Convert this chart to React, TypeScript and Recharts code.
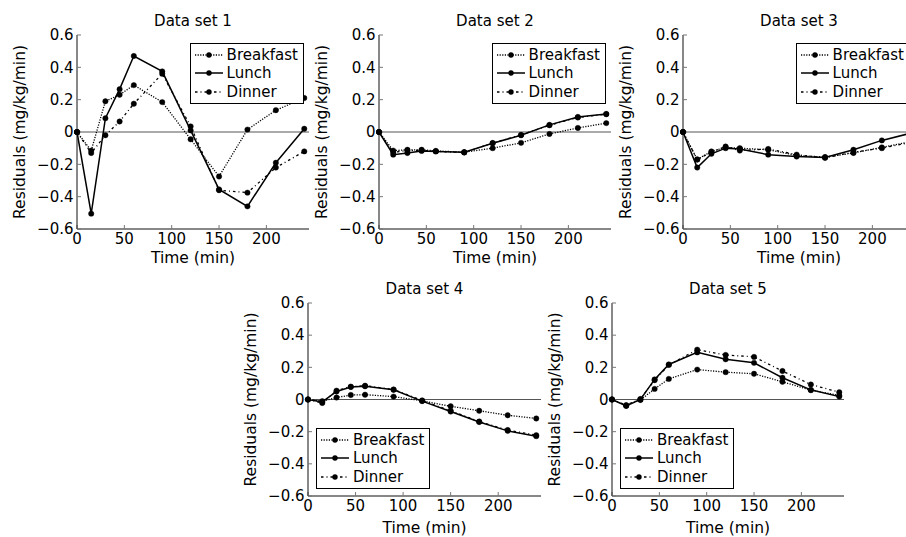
import React from 'react';
import { LineChart, Line, XAxis, YAxis, ReferenceLine, Legend } from 'recharts';

// sampling times (min) and axis ticks
const minutes = [0, 15, 30, 45, 60, 90, 120, 150, 180, 210, 240];
const xTicks = [0, 50, 100, 150, 200];
const yTicks = [-0.6, -0.4, -0.2, 0, 0.2, 0.4, 0.6];
const mealNames = ['Breakfast', 'Lunch', 'Dinner'];

// residuals, one array per meal and data set
const breakfast1 = [0, -0.115, 0.19, 0.23, 0.29, 0.185, -0.045, -0.275, 0.015, 0.135, 0.21];
const lunch1 = [0, -0.505, 0.085, 0.265, 0.47, 0.375, 0.01, -0.355, -0.46, -0.19, 0.02];
const dinner1 = [0, -0.13, -0.02, 0.065, 0.175, 0.36, 0.035, -0.36, -0.375, -0.22, -0.12];

const breakfast2 = [0, -0.115, -0.11, -0.11, -0.117, -0.125, -0.1, -0.067, -0.012, 0.025, 0.055];
const lunch2 = [0, -0.14, -0.13, -0.117, -0.12, -0.125, -0.07, -0.02, 0.044, 0.093, 0.112];
const dinner2 = [0, -0.125, -0.115, -0.113, -0.12, -0.127, -0.068, -0.018, 0.042, 0.09, 0.11];

const breakfast3 = [0, -0.17, -0.12, -0.095, -0.1, -0.11, -0.145, -0.155, -0.13, -0.095, -0.06];
const lunch3 = [0, -0.22, -0.135, -0.1, -0.105, -0.14, -0.152, -0.158, -0.11, -0.052, -0.008];
const dinner3 = [0, -0.17, -0.125, -0.09, -0.115, -0.105, -0.14, -0.16, -0.125, -0.1, -0.065];

const breakfast4 = [0, -0.01, 0.012, 0.028, 0.03, 0.018, -0.008, -0.042, -0.07, -0.098, -0.118];
const lunch4 = [0, -0.015, 0.05, 0.078, 0.082, 0.06, -0.01, -0.075, -0.14, -0.195, -0.228];
const dinner4 = [0, -0.022, 0.055, 0.08, 0.086, 0.062, -0.006, -0.07, -0.137, -0.19, -0.222];

const breakfast5 = [0, -0.037, -0.003, 0.066, 0.128, 0.186, 0.17, 0.16, 0.11, 0.058, 0.025];
const lunch5 = [0, -0.04, 0, 0.125, 0.218, 0.293, 0.25, 0.228, 0.135, 0.06, 0.018];
const dinner5 = [0, -0.035, 0.003, 0.12, 0.215, 0.31, 0.277, 0.265, 0.177, 0.093, 0.045];

const FONT = '"DejaVu Sans", Verdana, sans-serif';

const styles: Record<string, { dash?: string; width: number }> = {
  Breakfast: { dash: '1.2 1.4', width: 1.3 },
  Lunch: { dash: undefined, width: 1.5 },
  Dinner: { dash: '2.5 3 1 3', width: 1.3 },
};

// layout of each panel's plot box, in page pixels
const AX_W = 70;
const MT = 35;
const XH = 48;
const MR = 6;

type Panel = {
  title: string;
  series: number[][];
  left: number;
  top: number;
  w: number;
  h: number;
  legend: 'ur' | 'll';
  xGap: number;
};

const panels: Panel[] = [
  { title: 'Data set 1', series: [breakfast1, lunch1, dinner1], left: 77, top: 35, w: 232, h: 194, legend: 'ur', xGap: 34 },
  { title: 'Data set 2', series: [breakfast2, lunch2, dinner2], left: 379, top: 35, w: 232, h: 194, legend: 'ur', xGap: 34 },
  { title: 'Data set 3', series: [breakfast3, lunch3, dinner3], left: 683, top: 35, w: 232, h: 194, legend: 'ur', xGap: 34 },
  { title: 'Data set 4', series: [breakfast4, lunch4, dinner4], left: 308, top: 303, w: 233, h: 193, legend: 'll', xGap: 36.5 },
  { title: 'Data set 5', series: [breakfast5, lunch5, dinner5], left: 612, top: 303, w: 232, h: 193, legend: 'll', xGap: 36.5 },
];

const fmtY = (v: number) => (v === 0 ? '0' : (v < 0 ? '\u2212' : '') + Math.abs(v).toFixed(1));

const MealLegend = () => (
  <div
    style={{
      border: '1px solid #000',
      background: '#fff',
      padding: '2px 5px 2px 3px',
      fontFamily: FONT,
      fontSize: 15,
      lineHeight: '18.5px',
      color: '#000',
    }}
  >
    {mealNames.map((name) => (
      <div key={name} style={{ display: 'flex', alignItems: 'center', whiteSpace: 'nowrap' }}>
        <svg width={30} height={10} style={{ marginRight: 3, display: 'block' }}>
          <line x1={1} y1={5} x2={29} y2={5} stroke="#000" strokeWidth={styles[name].width} strokeDasharray={styles[name].dash} />
          <circle cx={15} cy={5} r={2.7} fill="#000" />
        </svg>
        <span>{name}</span>
      </div>
    ))}
  </div>
);

function ResidualPanel({ p }: { p: Panel }) {
  const data = minutes.map((t, i) => ({
    t,
    Breakfast: p.series[0][i],
    Lunch: p.series[1][i],
    Dinner: p.series[2][i],
  }));
  const width = AX_W + p.w + MR;
  const height = MT + p.h + XH;

  const legendPos =
    p.legend === 'ur'
      ? { left: 'auto', right: MR + 5, top: MT + 7.5, bottom: 'auto' }
      : { left: AX_W + 8, right: 'auto', top: 'auto', bottom: XH + 7 };

  const tickFont = { fill: '#000', fontSize: 15, fontFamily: FONT };
  const axisLine = { stroke: '#111', strokeWidth: 1 };
  const tickLine = { stroke: '#777', strokeWidth: 1 };

  return (
    <div style={{ position: 'absolute', left: p.left - AX_W, top: p.top - MT, width, height }}>
      <div
        style={{
          position: 'absolute',
          left: AX_W,
          width: p.w,
          top: MT - 21,
          textAlign: 'center',
          fontFamily: FONT,
          fontSize: 15,
          lineHeight: '15px',
          color: '#000',
          whiteSpace: 'nowrap',
        }}
      >
        {p.title}
      </div>
      <LineChart width={width} height={height} data={data} margin={{ top: MT, right: MR, bottom: 0, left: 0 }}>
        <XAxis
          dataKey="t"
          type="number"
          domain={[0, 245]}
          ticks={xTicks}
          interval={0}
          height={XH}
          tickSize={-4}
          tickMargin={8.5}
          tick={tickFont}
          tickLine={tickLine}
          axisLine={axisLine}
          label={{
            content: (props: any) => {
              const vb = props.viewBox || { x: AX_W, y: MT + p.h, width: p.w };
              return (
                <text x={vb.x + vb.width / 2} y={vb.y + p.xGap} textAnchor="middle" fontFamily={FONT} fontSize={15.5} fill="#000">
                  Time (min)
                </text>
              );
            },
          }}
        />
        <XAxis
          xAxisId="top"
          dataKey="t"
          type="number"
          orientation="top"
          domain={[0, 245]}
          ticks={xTicks}
          interval={0}
          height={0}
          tickSize={-4}
          tickFormatter={() => ''}
          tickLine={tickLine}
          axisLine={axisLine}
        />
        <YAxis
          type="number"
          domain={[-0.6, 0.6]}
          ticks={yTicks}
          interval={0}
          width={AX_W}
          tickSize={-4}
          tickMargin={7.5}
          tick={tickFont}
          tickFormatter={fmtY}
          tickLine={tickLine}
          axisLine={axisLine}
          label={{
            content: (props: any) => {
              const vb = props.viewBox || { x: 0, y: MT, width: AX_W, height: p.h };
              const cx = vb.x + vb.width - 57.5;
              const cy = vb.y + vb.height / 2;
              return (
                <text
                  x={cx}
                  y={cy}
                  transform={`rotate(-90 ${cx} ${cy})`}
                  textAnchor="middle"
                  dominantBaseline="central"
                  fontFamily={FONT}
                  fontSize={15.5}
                  fill="#000"
                >
                  Residuals (mg/kg/min)
                </text>
              );
            },
          }}
        />
        <YAxis
          yAxisId="right"
          orientation="right"
          type="number"
          domain={[-0.6, 0.6]}
          ticks={yTicks}
          interval={0}
          width={0}
          tickSize={-4}
          tickFormatter={() => ''}
          tickLine={tickLine}
          axisLine={axisLine}
        />
        <ReferenceLine y={0} stroke="#555" strokeWidth={1} />
        {mealNames.map((name) => (
          <Line
            key={name}
            type="linear"
            dataKey={name}
            stroke="#000"
            strokeWidth={styles[name].width}
            strokeDasharray={styles[name].dash}
            dot={{ r: 2.7, fill: '#000', stroke: '#000', strokeWidth: 0.4, strokeDasharray: '0' }}
            activeDot={false}
            isAnimationActive={false}
          />
        ))}
        <Legend
          layout="horizontal"
          verticalAlign="middle"
          align="center"
          content={() => <MealLegend />}
          wrapperStyle={{ position: 'absolute', width: 'auto', height: 'auto', ...legendPos }}
        />
      </LineChart>
    </div>
  );
}

export default function App() {
  return (
    <div
      style={{
        position: 'absolute',
        left: 0,
        top: 0,
        width: 906,
        height: 537,
        overflow: 'hidden',
        background: '#fff',
      }}
    >
      {panels.map((p) => (
        <ResidualPanel key={p.title} p={p} />
      ))}
    </div>
  );
}
